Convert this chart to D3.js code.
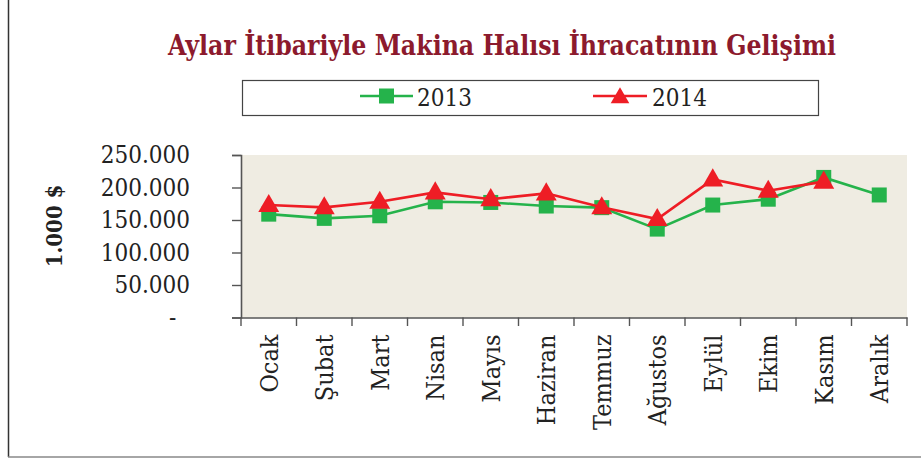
<!DOCTYPE html>
<html><head><meta charset="utf-8">
<script src="https://cdn.jsdelivr.net/npm/d3@7"></script>
<style>
html,body{margin:0;padding:0;background:#fff;}
svg text{font-family:'DejaVu Serif Condensed','DejaVu Serif',serif;font-stretch:condensed;}
</style></head>
<body>
<svg id="c" width="921" height="459"></svg>
<script>
const months = ["Ocak","Şubat","Mart","Nisan","Mayıs","Haziran","Temmuz","Ağustos","Eylül","Ekim","Kasım","Aralık"];
const values2013 = [159000,152500,156500,178000,177000,171500,169000,136000,173000,182000,215500,188500];
const values2014 = [173000,169500,178000,192500,182000,191000,169500,151500,212500,195000,209000,null];
const yTicks = [0,50000,100000,150000,200000,250000];
const yTickLabels = ["-\u2007","50.000","100.000","150.000","200.000","250.000"];
const seriesNames = ["2013","2014"];
const titleText = "Aylar İtibariyle Makina Halısı İhracatının Gelişimi";
const yAxisTitle = "1.000 $";

const svg = d3.select("#c");
const L = 241, R = 907, T = 155, B = 317.5;
const green = "#25b34b", red = "#ee1d25", axisCol = "#555";

// frame
svg.append("line").attr("x1",8.5).attr("x2",8.5).attr("y1",0).attr("y2",457).attr("stroke","#333").attr("stroke-width",1.5);
svg.append("line").attr("x1",8).attr("x2",921).attr("y1",457).attr("y2",457).attr("stroke","#888").attr("stroke-width",1.5);

// title
svg.append("text").attr("x",168).attr("y",55).text(titleText)
  .attr("font-size",28).attr("font-weight","bold").attr("fill","#8c1a2d")
  .attr("textLength",668).attr("lengthAdjust","spacingAndGlyphs");

// legend
const lg = svg.append("g");
lg.append("rect").attr("x",242.5).attr("y",80.5).attr("width",576).attr("height",35)
  .attr("fill","#fff").attr("stroke","#444").attr("stroke-width",1.2);
lg.append("line").attr("x1",360).attr("x2",413).attr("y1",96).attr("y2",96).attr("stroke",green).attr("stroke-width",2.5);
lg.append("rect").attr("x",379).attr("y",88.5).attr("width",15).attr("height",15).attr("fill",green);
lg.append("text").attr("x",417).attr("y",105.5).attr("font-size",24).attr("fill","#222").text(seriesNames[0]);
lg.append("line").attr("x1",593).attr("x2",647).attr("y1",96).attr("y2",96).attr("stroke",red).attr("stroke-width",2.5);
lg.append("path").attr("transform","translate(620,98)").attr("d",d3.symbol(d3.symbolTriangle,150)()).attr("fill",red);
lg.append("text").attr("x",652).attr("y",105.5).attr("font-size",24).attr("fill","#222").text(seriesNames[1]);

// scales
const x = d3.scaleBand().domain(months).range([L,R]).padding(0);
const y = d3.scaleLinear().domain([0,250000]).range([B,T]);

svg.append("rect").attr("x",L).attr("y",T).attr("width",R-L).attr("height",B-T).attr("fill","#efece2");

// y axis
const ya = svg.append("g").attr("transform",`translate(${L},0)`)
  .call(d3.axisLeft(y).tickValues(yTicks).tickSize(9).tickPadding(0).tickFormat((d,i)=>yTickLabels[i]));
ya.select(".domain").attr("stroke",axisCol).attr("stroke-width",1.6);
ya.selectAll(".tick line").attr("stroke",axisCol).attr("stroke-width",1.4);
ya.selectAll(".tick text").attr("x",-51).attr("font-size",24).attr("fill","#222")
  .attr("font-family","'DejaVu Serif Condensed','DejaVu Serif',serif");

// x axis
const xa = svg.append("g").attr("transform",`translate(0,${B})`)
  .call(d3.axisBottom(x).tickSize(0).tickFormat(d=>d));
xa.select(".domain").attr("stroke",axisCol).attr("stroke-width",1.6);
const bounds = d3.range(months.length+1).map(i => L + i*x.bandwidth());
xa.selectAll(".bnd").data(bounds).join("line").attr("class","bnd")
  .attr("x1",d=>d).attr("x2",d=>d).attr("y1",0).attr("y2",8.5).attr("stroke",axisCol).attr("stroke-width",1.4);
xa.selectAll(".tick text")
  .attr("transform","rotate(-90)").attr("x",-17).attr("y",0).attr("dy","0.36em")
  .attr("text-anchor","end").attr("font-size",25).attr("fill","#222")
  .attr("font-family","'DejaVu Serif Condensed','DejaVu Serif',serif");

// y axis title
svg.append("text").attr("transform","translate(62,226) rotate(-90)").attr("text-anchor","middle")
  .attr("font-size",22).attr("font-weight","bold").attr("fill","#222").style("font-stretch","normal")
  .attr("font-family","'DejaVu Serif',serif").text(yAxisTitle);

// series
const cx = d => x(d) + x.bandwidth()/2;
const line = d3.line().defined(d=>d[1]!=null).x(d=>cx(d[0])).y(d=>y(d[1]));
const d13 = months.map((m,i)=>[m,values2013[i]]);
const d14 = months.map((m,i)=>[m,values2014[i]]);

svg.append("path").datum(d13).attr("d",line).attr("fill","none").attr("stroke",green).attr("stroke-width",2.6);
svg.selectAll(".sq").data(d13).join("rect").attr("class","sq")
  .attr("x",d=>cx(d[0])-7.5).attr("y",d=>y(d[1])-7.5).attr("width",15).attr("height",15).attr("fill",green);

svg.append("path").datum(d14).attr("d",line).attr("fill","none").attr("stroke",red).attr("stroke-width",2.6);
svg.selectAll(".tri").data(d14.filter(d=>d[1]!=null)).join("path").attr("class","tri")
  .attr("transform",d=>`translate(${cx(d[0])},${y(d[1])+1})`)
  .attr("d",d3.symbol(d3.symbolTriangle,190)()).attr("fill",red);
</script>
</body></html>
